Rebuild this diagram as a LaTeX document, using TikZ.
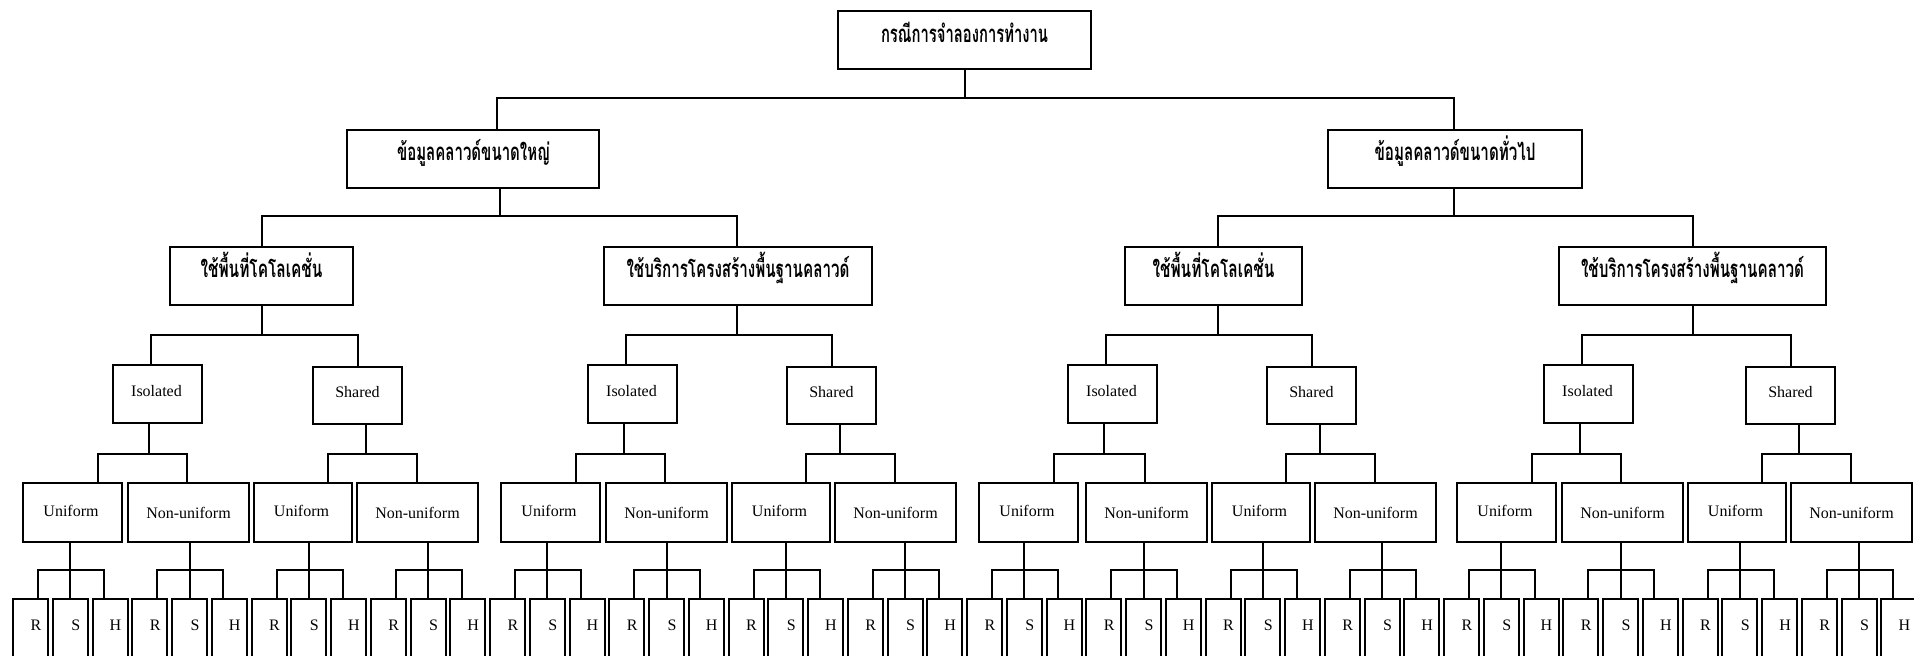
\documentclass[tikz,border=0pt]{standalone}
\usepackage{fontspec}
\usepackage{graphicx}
\setmainfont{Liberation Serif}
\newfontfamily\thaifont[Script=Thai]{Loma}
% rectangle given by its corners in pixel units (1px = 0.5pt)
\newcommand\boxnode[5]{\node[box, minimum width={(#4-(#2))*0.5pt}, minimum height={(#5-(#3))*0.5pt}] (#1) at ({((#2)+(#4))/2},{((#3)+(#5))/2}) {};}
% Thai label squeezed to a given width
\newcommand\thw[2]{\resizebox{#1}{\height}{#2}}
\begin{document}
\begin{tikzpicture}[x=0.5pt,y=-0.5pt,
  box/.style={draw=black, line width=1pt, inner sep=0pt, outer sep=0pt},
  link/.style={draw=black, line width=1pt},
  thtext/.style={anchor=base, inner sep=0pt, font=\thaifont\bfseries\fontsize{12pt}{14pt}\selectfont},
  lattext/.style={anchor=base, inner sep=0pt, font=\fontsize{8pt}{10pt}\selectfont}]
\clip (0,0) rectangle (1914,655);

% top levels
\boxnode{root}{838}{11}{1091}{69}
\node[thtext] (troot) at (964.5,42) {\thw{83.5pt}{กรณีการจำลองการทำงาน}};
\boxnode{la}{347}{130}{599}{188}
\node[thtext] (tla) at (473.5,160) {\thw{76.5pt}{ข้อมูลคลาวด์ขนาดใหญ่}};
\boxnode{lb}{1328}{130}{1582}{188}
\node[thtext] (tlb) at (1455,160) {\thw{80.5pt}{ข้อมูลคลาวด์ขนาดทั่วไป}};

\boxnode{s0}{170}{246.5}{353}{305}
\node[thtext] (ts0) at (261.5,277.5) {\thw{61pt}{ใช้พื้นที่โคโลเคชั่น}};
\boxnode{s1}{604}{246.5}{872}{305}
\node[thtext] (ts1) at (738,277.5) {\thw{111.5pt}{ใช้บริการโครงสร้างพื้นฐานคลาวด์}};
\boxnode{s2}{1125}{246.5}{1302}{305}
\node[thtext] (ts2) at (1213.5,277.5) {\thw{61pt}{ใช้พื้นที่โคโลเคชั่น}};
\boxnode{s3}{1559}{246.5}{1826}{305}
\node[thtext] (ts3) at (1692.5,277.5) {\thw{111.5pt}{ใช้บริการโครงสร้างพื้นฐานคลาวด์}};

\draw[link] (root.south) -- ++(0,29) -| ([xshift=12pt]la.north);
\draw[link] (root.south) -- ++(0,29) -| ([xshift=-0.5pt]lb.north);
\draw[link] ([xshift=13.5pt]la.south) -- ++(0,28) -| ([xshift=0.25pt]s0.north);
\draw[link] ([xshift=13.5pt]la.south) -- ++(0,28) -| ([xshift=-0.5pt]s1.north);
\draw[link] ([xshift=-0.5pt]lb.south) -- ++(0,28) -| ([xshift=2pt]s2.north);
\draw[link] ([xshift=-0.5pt]lb.south) -- ++(0,28) -| ([xshift=0.25pt]s3.north);

% leaves R / S / H
\foreach \m in {0,...,47}{
  \pgfmathsetmacro\lx{13+39.75*\m}
  \pgfmathtruncatemacro\r{mod(\m,3)}
  \node[box, anchor=north west, minimum width=17.5pt, minimum height=50pt] (f\m) at (\lx,599) {};
  \node[lattext] (ft\m) at (\lx+23,630) {\ifcase\r R\or S\or H\fi};
}

% per branch: Isolated / Shared and Uniform / Non-uniform
\foreach \g/\ia/\sa/\a/\b/\c/\d/\so in {0/113/313/23/128/254/357/0.25pt, 1/588/787/501/606/732/835/-0.5pt, 2/1068/1267/979/1086/1212/1315/2pt, 3/1544/1746/1457/1562/1688/1791/0.25pt}{
  \boxnode{i\g}{\ia}{364.5}{\ia+89}{423}
  \node[lattext] (it\g) at (\ia+43.5,396) {Isolated};
  \boxnode{h\g}{\sa}{367}{\sa+89}{424}
  \node[lattext] (ht\g) at (\sa+44.5,397) {Shared};
  \boxnode{q\g0}{\a}{483}{\a+99}{542}
  \node[lattext] (qt\g0) at (\a+48,516) {Uniform};
  \boxnode{q\g1}{\b}{483}{\b+121}{542}
  \node[lattext] (qt\g1) at (\b+60.5,518) {Non-uniform};
  \boxnode{q\g2}{\c}{483}{\c+98}{542}
  \node[lattext] (qt\g2) at (\c+47.5,516) {Uniform};
  \boxnode{q\g3}{\d}{483}{\d+121}{542}
  \node[lattext] (qt\g3) at (\d+60.5,518) {Non-uniform};

  \draw[link] ([xshift=\so]s\g.south) -- ++(0,29.5) -| ([xshift=-3.1pt]i\g.north);
  \draw[link] ([xshift=\so]s\g.south) -- ++(0,29.5) -| ([xshift=0.4pt]h\g.north);
  \draw[link] ([xshift=-4.3pt]i\g.south) -- ++(0,31) -| ([xshift=12.75pt]q\g0.north);
  \draw[link] ([xshift=-4.3pt]i\g.south) -- ++(0,31) -| ([xshift=-0.75pt]q\g1.north);
  \draw[link] ([xshift=4.1pt]h\g.south) -- ++(0,30) -| ([xshift=12.5pt]q\g2.north);
  \draw[link] ([xshift=4.1pt]h\g.south) -- ++(0,30) -| ([xshift=-0.5pt]q\g3.north);

  \foreach \j in {0,...,3}{
    \pgfmathtruncatemacro\mr{12*\g+3*\j}
    \pgfmathtruncatemacro\ms{\mr+1}
    \pgfmathtruncatemacro\mh{\mr+2}
    \draw[link] (q\g\j.south -| f\ms.north) -- ++(0,27.5) -| ([xshift=3.75pt]f\mr.north);
    \draw[link] (q\g\j.south -| f\ms.north) -- ++(0,27.5) -| ([xshift=-3pt]f\mh.north);
    \draw[link] (q\g\j.south -| f\ms.north) -- (f\ms.north);
  }
}
\end{tikzpicture}
\end{document}
